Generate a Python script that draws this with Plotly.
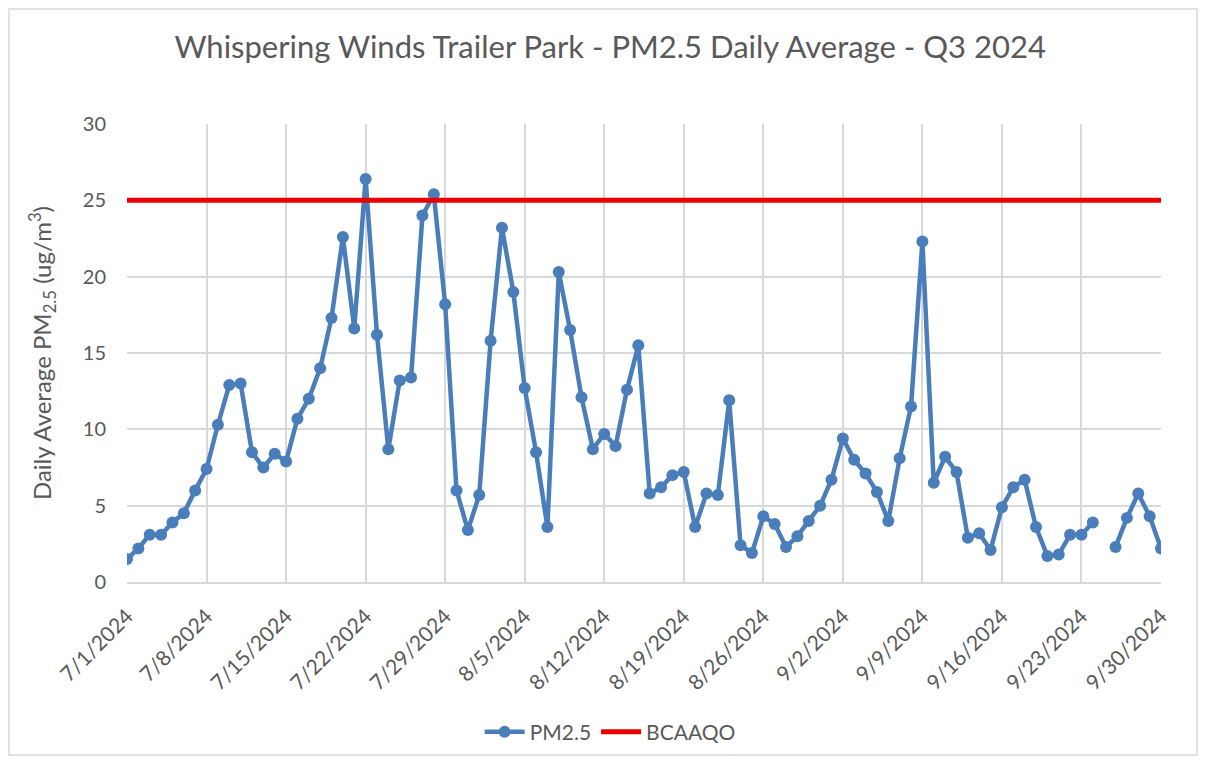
import plotly.graph_objects as go
import pandas as pd

dates = pd.date_range("2024-07-01", "2024-09-30", freq="D")

pm25_jul = [1.5, 2.2, 3.1, 3.1, 3.9, 4.5, 6.0, 7.4, 10.3, 12.9, 13.0, 8.5, 7.5, 8.4, 7.9, 10.7,
            12.0, 14.0, 17.3, 22.6, 16.6, 26.4, 16.2, 8.7, 13.2, 13.4, 24.0, 25.4, 18.2, 6.0, 3.4]
pm25_aug = [5.7, 15.8, 23.2, 19.0, 12.7, 8.5, 3.6, 20.3, 16.5, 12.1, 8.7, 9.7, 8.9, 12.6, 15.5,
            5.8, 6.2, 7.0, 7.2, 3.6, 5.8, 5.7, 11.9, 2.4, 1.9, 4.3, 3.8, 2.3, 3.0, 4.0, 5.0]
pm25_sep = [6.7, 9.4, 8.0, 7.1, 5.9, 4.0, 8.1, 11.5, 22.3, 6.5, 8.2, 7.2, 2.9, 3.2, 2.1, 4.9,
            6.2, 6.7, 3.6, 1.7, 1.8, 3.1, 3.1, 3.9, None, 2.3, 4.2, 5.8, 4.3, 2.2]
pm25 = pm25_jul + pm25_aug + pm25_sep

bcaaqo_level = 25
y_ticks = [0, 5, 10, 15, 20, 25, 30]

GRAY = "#595959"
GRID = "#d9d9d9"
BLUE = "#4a7ebb"
RED = "#e80000"
FONT = "Lato"

fig = go.Figure()
fig.add_trace(go.Scatter(
    x=dates, y=pm25, name="PM2.5", mode="lines+markers",
    line=dict(color=BLUE, width=4.5),
    marker=dict(color=BLUE, size=12),
    connectgaps=False,
))
fig.add_trace(go.Scatter(
    x=[dates[0], dates[-1]], y=[bcaaqo_level, bcaaqo_level], name="BCAAQO", mode="lines",
    line=dict(color=RED, width=5),
))

fig.update_layout(
    width=1190, height=748,
    paper_bgcolor="white", plot_bgcolor="white",
    margin=dict(l=119, r=37, t=116, b=174, autoexpand=False),
    font=dict(family=FONT, color=GRAY, size=20),
    title=dict(text="Whispering Winds Trailer Park - PM2.5 Daily Average - Q3 2024",
               x=0.506, xanchor="center", y=0.948, yanchor="middle",
               font=dict(family=FONT, size=31, color=GRAY)),
    showlegend=True,
    legend=dict(orientation="h", x=0.506, xref="container", xanchor="center",
                y=0.032, yref="container", yanchor="middle",
                font=dict(size=21, color=GRAY), tracegroupgap=0, itemwidth=40),
    shapes=[dict(type="rect", xref="paper", yref="paper", x0=-0.1141, x1=1.0348, y0=-0.3777, y1=1.2511,
                 line=dict(color="#d9d9d9", width=1.5), fillcolor="rgba(0,0,0,0)", layer="below")],
)

fig.update_xaxes(
    type="date", range=[dates[0], dates[-1]],
    tickmode="linear", tick0=dates[0], dtick=7 * 24 * 3600 * 1000,
    tickformat="%-m/%-d/%Y", tickangle=-45,
    showgrid=True, gridcolor=GRID, gridwidth=1.5,
    showline=True, linecolor=GRID, linewidth=1.5,
    ticks="", tickfont=dict(size=21, color=GRAY), zeroline=False,
    ticklabelstandoff=12, automargin=False,
)
fig.update_yaxes(
    range=[0, 30], tickvals=y_ticks,
    showgrid=True, gridcolor=GRID, gridwidth=1.5,
    showline=False, zeroline=False, ticks="",
    tickfont=dict(size=20, color=GRAY),
    ticklabelstandoff=20, automargin=False,
    title=dict(text="Daily Average PM<sub>2.5</sub> (ug/m<sup>3</sup>)",
               font=dict(size=24, color=GRAY), standoff=24),
)

fig.write_html("out.html")
